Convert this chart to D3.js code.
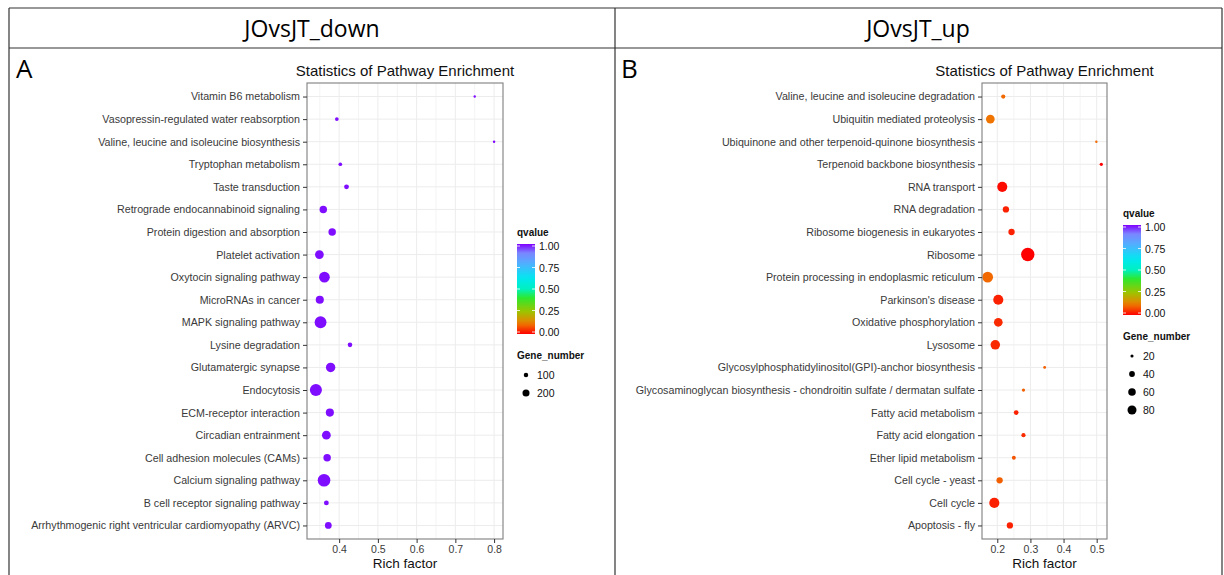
<!DOCTYPE html>
<html>
<head>
<meta charset="utf-8">
<style>
  body { margin: 0; background: white; }
  svg { font-family: 'Liberation Sans', Arial, sans-serif; }
  .frame line { stroke: #333; stroke-width: 1.2px; }
  .grid line { stroke: #ececec; }
  .grid line.minor { stroke: #f4f4f4; }
  .ylab { font-size: 10.7px; fill: #3a3a3a; }
  .xlab { font-size: 10.5px; fill: #3a3a3a; }
  .leg { font-size: 10.5px; fill: #111; }
  .legtitle { font-size: 10px; font-weight: bold; fill: #111; }
</style>
</head>
<body>
<div id="chart"></div>
<script src="https://d3js.org/d3.v7.min.js"></script>
<script>

// ---- data, panel A (JOvsJT_down), listed top to bottom
var downPathways = ["Vitamin B6 metabolism", "Vasopressin-regulated water reabsorption",
  "Valine, leucine and isoleucine biosynthesis", "Tryptophan metabolism", "Taste transduction",
  "Retrograde endocannabinoid signaling", "Protein digestion and absorption", "Platelet activation",
  "Oxytocin signaling pathway", "MicroRNAs in cancer", "MAPK signaling pathway", "Lysine degradation",
  "Glutamatergic synapse", "Endocytosis", "ECM-receptor interaction", "Circadian entrainment",
  "Cell adhesion molecules (CAMs)", "Calcium signaling pathway", "B cell receptor signaling pathway",
  "Arrhythmogenic right ventricular cardiomyopathy (ARVC)"];
var downRich = [0.750, 0.394, 0.800, 0.403, 0.419, 0.359, 0.382, 0.349, 0.362, 0.350,
  0.352, 0.428, 0.378, 0.340, 0.376, 0.367, 0.369, 0.361, 0.367, 0.372];
var downGenes = [43, 56, 43, 56, 72, 125, 125, 160, 222, 142, 265, 68, 179, 272, 142, 160, 125, 295, 72, 109];
var downQ = [0.99, 0.99, 1.00, 0.99, 0.99, 0.99, 0.99, 0.99, 0.99, 0.99,
  0.99, 0.99, 0.99, 0.99, 0.99, 0.99, 0.99, 0.99, 0.99, 0.99];
var downSizeBreaks = [100, 200];

// ---- data, panel B (JOvsJT_up), listed top to bottom
var upPathways = ["Valine, leucine and isoleucine degradation", "Ubiquitin mediated proteolysis",
  "Ubiquinone and other terpenoid-quinone biosynthesis", "Terpenoid backbone biosynthesis",
  "RNA transport", "RNA degradation", "Ribosome biogenesis in eukaryotes", "Ribosome",
  "Protein processing in endoplasmic reticulum", "Parkinson's disease", "Oxidative phosphorylation",
  "Lysosome", "Glycosylphosphatidylinositol(GPI)-anchor biosynthesis",
  "Glycosaminoglycan biosynthesis - chondroitin sulfate / dermatan sulfate",
  "Fatty acid metabolism", "Fatty acid elongation", "Ether lipid metabolism",
  "Cell cycle - yeast", "Cell cycle", "Apoptosis - fly"];
var upRich = [0.218, 0.179, 0.499, 0.514, 0.215, 0.226, 0.243, 0.292, 0.171, 0.203,
  0.203, 0.194, 0.343, 0.279, 0.257, 0.279, 0.250, 0.207, 0.191, 0.238];
var upGenes = [19, 43, 14, 16, 54, 28, 28, 86, 59, 54, 43, 49, 15, 16, 21, 19, 18, 28, 54, 28];
var upQ = [0.10, 0.11, 0.10, 0.00, 0.01, 0.03, 0.03, 0.00, 0.10, 0.03,
  0.04, 0.04, 0.09, 0.09, 0.03, 0.04, 0.08, 0.09, 0.03, 0.03];
var upSizeBreaks = [20, 40, 60, 80];

var qTicks = [0, 0.25, 0.5, 0.75, 1];

// qvalue colour scale (rainbow, red -> purple)
var qColor = d3.scaleLinear()
  .domain([0, 0.12, 0.25, 0.4, 0.5, 0.62, 0.78, 0.9, 1])
  .range(["#ff0000", "#ee7e00", "#9cc400", "#2ee82e", "#00f0c0", "#00e8f0", "#50b0ff", "#7a86ff", "#8000ff"])
  .interpolate(d3.interpolateRgb);

var W = 1224, H = 575;
var svg = d3.select("#chart").append("svg").attr("width", W).attr("height", H);

// ---- outer table
var frame = svg.append("g").attr("class", "frame");
frame.append("line").attr("x1", 9).attr("x2", 1222).attr("y1", 8).attr("y2", 8);
frame.append("line").attr("x1", 9).attr("x2", 1222).attr("y1", 48).attr("y2", 48);
[9, 615, 1222].forEach(function(x) {
  frame.append("line").attr("x1", x).attr("x2", x).attr("y1", 8).attr("y2", H);
});
svg.append("text").attr("x", 312).attr("y", 37).attr("text-anchor", "middle")
  .style("font-family", "'Open Sans'").style("font-size", "23px").text("JOvsJT_down");
svg.append("text").attr("x", 918).attr("y", 37).attr("text-anchor", "middle")
  .style("font-family", "'Open Sans'").style("font-size", "23px").text("JOvsJT_up");
svg.append("text").attr("x", 16).attr("y", 78)
  .style("font-family", "'Open Sans'").style("font-size", "26px").text("A");
svg.append("text").attr("x", 621).attr("y", 78)
  .style("font-family", "'Open Sans'").style("font-size", "26px").text("B");

function drawPanel(o) {
  var g = svg.append("g");
  var ext = d3.extent(o.rich), pad = (ext[1] - ext[0]) * 0.05;
  var x = d3.scaleLinear().domain([ext[0] - pad, ext[1] + pad]).range([o.left, o.right]);
  var y = d3.scalePoint().domain(o.cats).range([o.top, o.bottom]).padding(0.6);
  var area = d3.scaleLinear().domain(d3.extent(o.genes)).range([o.rmin * o.rmin, o.rmax * o.rmax]);
  var r = function(n) { return Math.sqrt(Math.max(0.1, area(n))); };

  // grid
  var grid = g.append("g").attr("class", "grid");
  var majors = x.ticks(5);
  var step = majors[1] - majors[0];
  var minors = d3.range(majors[0] - step / 2, x.domain()[1], step)
    .filter(function(v) { return v > x.domain()[0]; });
  grid.selectAll("line.minor").data(minors).join("line").attr("class", "minor")
    .attr("x1", x).attr("x2", x).attr("y1", o.top).attr("y2", o.bottom);
  grid.selectAll("line.vmaj").data(majors).join("line").attr("class", "vmaj")
    .attr("x1", x).attr("x2", x).attr("y1", o.top).attr("y2", o.bottom);
  grid.selectAll("line.h").data(o.cats).join("line").attr("class", "h")
    .attr("x1", o.left).attr("x2", o.right).attr("y1", y).attr("y2", y);

  // points
  var idx = d3.range(o.cats.length);
  g.selectAll("circle.pt").data(idx).join("circle").attr("class", "pt")
    .attr("cx", function(i) { return x(o.rich[i]); })
    .attr("cy", function(i) { return y(o.cats[i]); })
    .attr("r", function(i) { return r(o.genes[i]); })
    .attr("fill", function(i) { return qColor(o.q[i]); });

  g.append("rect").attr("x", o.left).attr("y", o.top)
    .attr("width", o.right - o.left).attr("height", o.bottom - o.top)
    .attr("fill", "none").attr("stroke", "#7f7f7f").attr("stroke-width", 1.1);

  // axes
  var ya = g.append("g").attr("transform", "translate(" + o.left + ",0)")
    .call(d3.axisLeft(y).tickSize(4).tickPadding(3));
  ya.select(".domain").remove();
  ya.selectAll("line").attr("stroke", "#333");
  ya.selectAll("text").attr("class", "ylab").attr("fill", null).style("font-family", null).style("font-size", null);

  var xa = g.append("g").attr("transform", "translate(0," + o.bottom + ")")
    .call(d3.axisBottom(x).ticks(5).tickSize(4).tickPadding(3).tickFormat(d3.format(".1f")));
  xa.select(".domain").remove();
  xa.selectAll("line").attr("stroke", "#333");
  xa.selectAll("text").attr("class", "xlab").attr("fill", null).style("font-family", null).style("font-size", null);

  var cx = (o.left + o.right) / 2;
  g.append("text").attr("x", cx).attr("y", 76).attr("text-anchor", "middle")
    .style("font-size", "15px").attr("fill", "#111").text("Statistics of Pathway Enrichment");
  g.append("text").attr("x", cx).attr("y", 568).attr("text-anchor", "middle")
    .style("font-size", "13.5px").attr("fill", "#111").text("Rich factor");

  // legend: qvalue colourbar
  var L = o.legX, bw = 18;
  g.append("text").attr("class", "legtitle").attr("x", L).attr("y", o.legY).text("qvalue");
  var qy = d3.scaleLinear().domain([0, 1]).range([o.legY + 96, o.legY + 10]);
  var gradId = "grad" + o.id;
  var grad = svg.append("defs").append("linearGradient").attr("id", gradId)
    .attr("x1", 0).attr("y1", 1).attr("x2", 0).attr("y2", 0);
  d3.range(0, 1.0001, 0.05).forEach(function(v) {
    grad.append("stop").attr("offset", v).attr("stop-color", qColor(v));
  });
  g.append("rect").attr("x", L).attr("y", qy(1) - 2).attr("width", bw).attr("height", qy(0) - qy(1) + 4)
    .attr("fill", "url(#" + gradId + ")");
  g.selectAll("line.qt").data(qTicks).join("line").attr("class", "qt")
    .attr("x1", L).attr("x2", L + 3).attr("y1", qy).attr("y2", qy)
    .attr("stroke", "white").attr("stroke-opacity", 0.8);
  g.selectAll("line.qt2").data(qTicks).join("line").attr("class", "qt2")
    .attr("x1", L + bw - 3).attr("x2", L + bw).attr("y1", qy).attr("y2", qy)
    .attr("stroke", "white").attr("stroke-opacity", 0.8);
  g.selectAll("text.qlab").data(qTicks).join("text").attr("class", "leg qlab")
    .attr("x", L + bw + 4).attr("y", function(v) { return qy(v) + 4; })
    .text(d3.format(".2f"));

  // legend: gene number (keys drawn smaller than plot points, as in the source figure)
  var gy = qy(0) + 27;
  g.append("text").attr("class", "legtitle").attr("x", L).attr("y", gy).text("Gene_number");
  g.selectAll("circle.key").data(o.breaks).join("circle").attr("class", "key")
    .attr("cx", L + bw / 2).attr("cy", function(d, i) { return gy + 16 + i * 18; })
    .attr("r", function(d) { return r(d) * 0.7; }).attr("fill", "black");
  g.selectAll("text.klab").data(o.breaks).join("text").attr("class", "leg klab")
    .attr("x", L + bw + 2).attr("y", function(d, i) { return gy + 20 + i * 18; })
    .text(function(d) { return d; });
}

drawPanel({ id: "A", cats: downPathways, rich: downRich, genes: downGenes, q: downQ,
  breaks: downSizeBreaks, left: 307, right: 503, top: 83, bottom: 539,
  rmin: 1.2, rmax: 6.3, legX: 517, legY: 236 });
drawPanel({ id: "B", cats: upPathways, rich: upRich, genes: upGenes, q: upQ,
  breaks: upSizeBreaks, left: 982, right: 1107, top: 83, bottom: 539,
  rmin: 1.2, rmax: 6.7, legX: 1123, legY: 217 });

</script>
</body>
</html>
